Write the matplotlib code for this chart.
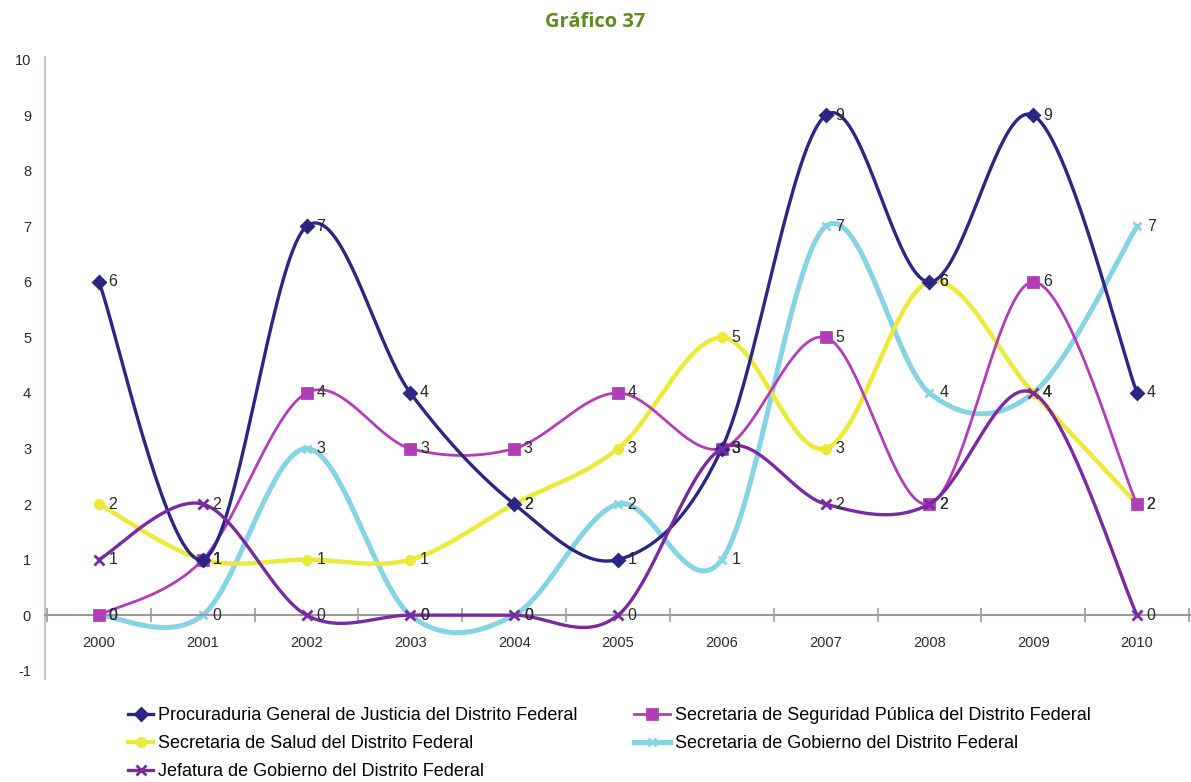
import numpy as np
import matplotlib
matplotlib.use("Agg")
import matplotlib.pyplot as plt
from matplotlib.lines import Line2D

plt.rcParams['font.family'] = ['Liberation Sans', 'DejaVu Sans']
plt.rcParams['axes.unicode_minus'] = False

years = ['2000', '2001', '2002', '2003', '2004', '2005', '2006', '2007', '2008', '2009', '2010']
procuraduria = [6, 1, 7, 4, 2, 1, 3, 9, 6, 9, 4]
seguridad = [0, 1, 4, 3, 3, 4, 3, 5, 2, 6, 2]
salud = [2, 1, 1, 1, 2, 3, 5, 3, 6, 4, 2]
gobierno = [0, 0, 3, 0, 0, 2, 1, 7, 4, 4, 7]
jefatura = [1, 2, 0, 0, 0, 0, 3, 2, 2, 4, 0]

names = ['Procuraduria General de Justicia del Distrito Federal',
         'Secretaria de Seguridad Pública del Distrito Federal',
         'Secretaria de Salud del Distrito Federal',
         'Secretaria de Gobierno del Distrito Federal',
         'Jefatura de Gobierno del Distrito Federal']


def smooth(y, n=40):
    """Catmull-Rom curve through the points (Excel-like smoothed line)."""
    y = np.asarray(y, float)
    x = np.arange(len(y), dtype=float)
    P = np.column_stack([x, y])
    P = np.vstack([P[0], P, P[-1]])
    out = []
    t = np.linspace(0, 1, n)[:, None]
    for i in range(1, len(P) - 2):
        p0, p1, p2, p3 = P[i - 1], P[i], P[i + 1], P[i + 2]
        c1 = p1 + (p2 - p0) / 6.0
        c2 = p2 - (p3 - p1) / 6.0
        seg = ((1 - t) ** 3) * p1 + 3 * ((1 - t) ** 2) * t * c1 + 3 * (1 - t) * t ** 2 * c2 + t ** 3 * p2
        out.append(seg if i == 1 else seg[1:])
    s = np.vstack(out)
    return s[:, 0], s[:, 1]


fig = plt.figure(figsize=(11.91, 7.82), dpi=100)
ax = fig.add_axes([45 / 1191, 1 - 679 / 782, 1 - 45 / 1191, (679 - 57) / 782])

series = [
    (procuraduria, '#2b2682', 'D', 2.4, 6, 5),
    (seguridad, '#b23db8', 's', 2.0, 7, 4),
    (salud, '#eaea3a', 'o', 3.2, 6, 3),
    (gobierno, '#86d3e3', 'x', 3.6, 6, 2),
    (jefatura, '#7a2aa0', 'x', 2.4, 7, 6),
]

handles = []
for (vals, col, mk, lw, ms, z), name in zip(series, names):
    sx, sy = smooth(vals)
    ax.plot(sx, sy, color=col, lw=lw, zorder=z, solid_capstyle='round')
    xi = np.arange(len(vals))
    ax.plot(xi, vals, ls='none', marker=mk, color=col, ms=ms, mew=2, zorder=z + 0.5)
    for x, v in zip(xi, vals):
        ax.annotate(str(v), (x, v), xytext=(7, 0), textcoords='offset points',
                    va='center', ha='left', fontsize=11.5, color='#2a2a2a', zorder=10)
    handles.append(Line2D([0], [0], color=col, lw=lw, marker=mk, ms=ms, mew=2))

ax.set_xlim(-0.52, 10.52)
ax.set_ylim(-1.15, 10.05)
ax.set_yticks(range(-1, 11))
ax.tick_params(axis='y', length=0, labelsize=10.5, colors='#2a2a2a', pad=10)

ax.spines['top'].set_visible(False)
ax.spines['right'].set_visible(False)
ax.spines['left'].set_color('#cfc6c6')
ax.spines['left'].set_linewidth(1.5)
ax.spines['bottom'].set_position(('data', 0))
ax.spines['bottom'].set_color('#9a9a9a')
ax.spines['bottom'].set_linewidth(1.5)

ax.set_xticks(np.arange(-0.5, 10.6, 1.0))
ax.set_xticklabels([])
ax.tick_params(axis='x', which='major', direction='inout', length=10, color='#9a9a9a', width=1.2)
ax.set_xticks(np.arange(len(years)), minor=True)
ax.set_xticklabels(years, minor=True)
ax.tick_params(axis='x', which='minor', length=0, labelsize=10.5, colors='#2a2a2a', pad=15)

fig.text(0.5, 1 - 22 / 782, 'Gráfico 37', ha='center', va='center', fontsize=14.5,
         fontweight='bold', color='#5e8a1e', family='Open Sans')

leg_kw = dict(frameon=False, fontsize=13, handletextpad=0.25,
              labelspacing=0.62, borderaxespad=0, borderpad=0)
leg1 = fig.legend([handles[0], handles[2], handles[4]], [names[0], names[2], names[4]],
                  loc='upper left', bbox_to_anchor=(128 / 1191, 1 - 707 / 782),
                  handlelength=1.4, **leg_kw)
leg2 = fig.legend([handles[1], handles[3]], [names[1], names[3]],
                  loc='upper left', bbox_to_anchor=(634 / 1191, 1 - 707 / 782),
                  handlelength=2.0, **leg_kw)

fig.savefig('out.png', dpi=100)
